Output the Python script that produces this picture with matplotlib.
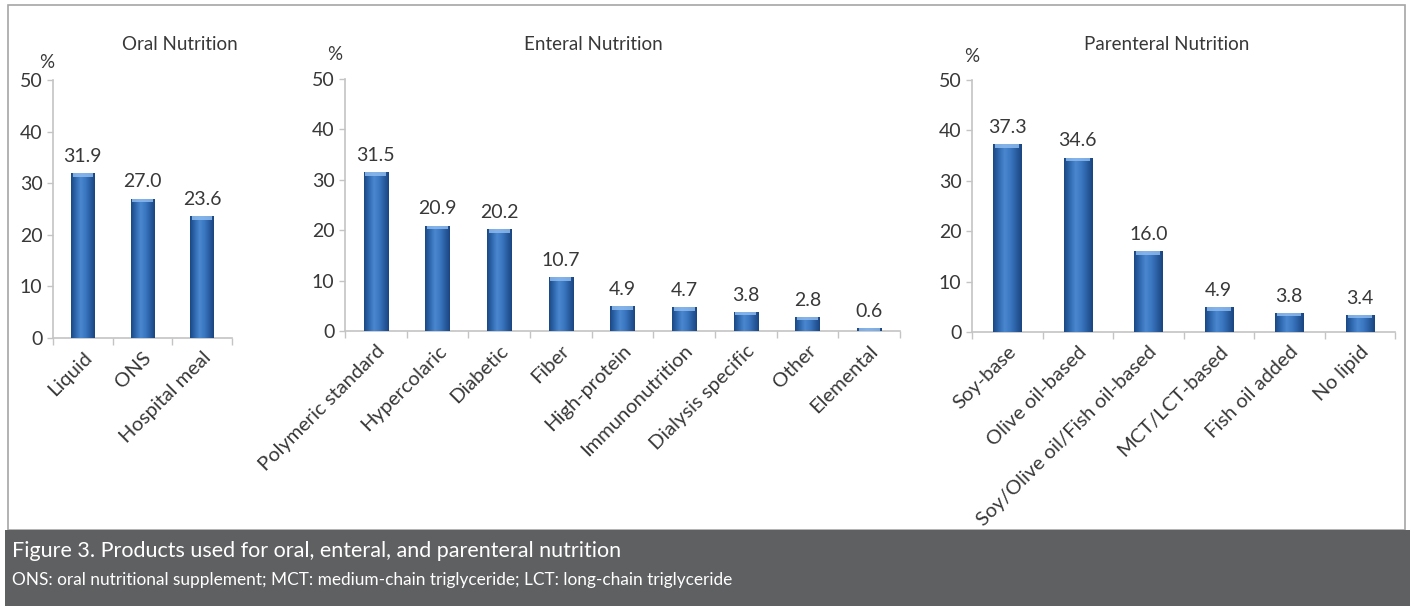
import numpy as np
import matplotlib
matplotlib.use("Agg")
import matplotlib.pyplot as plt
from matplotlib.colors import LinearSegmentedColormap
from matplotlib.patches import Rectangle

plt.rcParams["font.family"] = ["Lato", "DejaVu Sans"]

oral_labels = ["Liquid", "ONS", "Hospital meal"]
oral_values = [31.9, 27.0, 23.6]

enteral_labels = ["Polymeric standard", "Hypercolaric", "Diabetic", "Fiber",
                  "High-protein", "Immunonutrition", "Dialysis specific",
                  "Other", "Elemental"]
enteral_values = [31.5, 20.9, 20.2, 10.7, 4.9, 4.7, 3.8, 2.8, 0.6]

parenteral_labels = ["Soy-base", "Olive oil-based", "Soy/Olive oil/Fish oil-based",
                     "MCT/LCT-based", "Fish oil added", "No lipid"]
parenteral_values = [37.3, 34.6, 16.0, 4.9, 3.8, 3.4]

TEXT = "#383838"
AXIS = "#c4c4c4"
bar_cmap = LinearSegmentedColormap.from_list(
    "barblue", ["#1b4883", "#2f69b0", "#4a87cf", "#3b78c2", "#2a5fa3", "#1a4580"])


def draw_panel(ax, labels, values, title, title_x, pct_xy):
    n = len(labels)
    x = np.arange(n)
    width = 0.4
    bars = ax.bar(x, values, width=width, color="#2f69b0", edgecolor="none", zorder=2)
    grad = np.linspace(0, 1, 64).reshape(1, -1)
    for b, v in zip(bars, values):
        x0 = b.get_x()
        im = ax.imshow(grad, cmap=bar_cmap, aspect="auto", zorder=3,
                       extent=[x0, x0 + width, 0, v], interpolation="bilinear")
        im.set_clip_path(b)
        cap = min(0.7, v)
        ax.add_patch(Rectangle((x0 + 0.03, v - cap), width - 0.06, cap,
                               facecolor="#8dbbee", edgecolor="none", alpha=0.85, zorder=4))
        ax.annotate(f"{v:.1f}", (b.get_x() + width / 2, v), xytext=(0, 6),
                    textcoords="offset points", ha="center", va="bottom",
                    fontsize=14, color=TEXT)

    ax.set_xlim(-0.5, n - 0.5)
    ax.set_ylim(0, 50)
    ax.set_yticks(np.arange(0, 51, 10))
    ax.tick_params(axis="y", colors=AXIS, labelcolor=TEXT, labelsize=14, length=4, width=1)
    ax.set_xticks(x)
    ax.set_xticklabels(labels, rotation=45, ha="right", va="top",
                       rotation_mode="anchor", fontsize=14.5, color=TEXT)
    ax.tick_params(axis="x", which="major", length=0, pad=8)
    ax.set_xticks(np.arange(-0.5, n), minor=True)
    ax.tick_params(axis="x", which="minor", length=5, color=AXIS, width=1)
    for s in ["top", "right"]:
        ax.spines[s].set_visible(False)
    for s in ["left", "bottom"]:
        ax.spines[s].set_color(AXIS)
        ax.spines[s].set_linewidth(1.2)
    fig.text(title_x, 0.926, title, ha="center", va="center", fontsize=13.5, color=TEXT)
    fig.text(pct_xy[0], pct_xy[1], "%", ha="center", va="center", fontsize=13.5, color=TEXT)


fig = plt.figure(figsize=(14.1, 6.06), dpi=100)

# outer frame and caption band
fig.patches.append(Rectangle((8 / 1410, 1 - 530 / 606), 1397 / 1410, 525 / 606,
                             transform=fig.transFigure, facecolor="white",
                             edgecolor="#a6a6a6", linewidth=1.2, zorder=-2))
fig.patches.append(Rectangle((5 / 1410, 0), 1405 / 1410, 76 / 606,
                             transform=fig.transFigure, facecolor="#5f6062",
                             edgecolor="none", zorder=-1))

ax1 = fig.add_axes([53 / 1410, 1 - 338 / 606, 179 / 1410, 258 / 606])
ax2 = fig.add_axes([345 / 1410, 1 - 331 / 606, 555 / 1410, 252 / 606])
ax3 = fig.add_axes([972 / 1410, 1 - 332 / 606, 423 / 1410, 252 / 606])
for a in (ax1, ax2, ax3):
    a.patch.set_alpha(0)

draw_panel(ax1, oral_labels, oral_values, "Oral Nutrition", 180 / 1410, (47 / 1410, 1 - 62 / 606))
draw_panel(ax2, enteral_labels, enteral_values, "Enteral Nutrition", 593 / 1410, (335 / 1410, 1 - 55 / 606))
draw_panel(ax3, parenteral_labels, parenteral_values, "Parenteral Nutrition", 1167 / 1410, (972 / 1410, 1 - 57 / 606))

fig.text(12 / 1410, 1 - 551 / 606, "Figure 3. Products used for oral, enteral, and parenteral nutrition",
         ha="left", va="center", fontsize=15.5, color="white")
fig.text(12 / 1410, 1 - 580 / 606,
         "ONS: oral nutritional supplement; MCT: medium-chain triglyceride; LCT: long-chain triglyceride",
         ha="left", va="center", fontsize=12.4, color="white")

fig.savefig("out.png", dpi=100)
